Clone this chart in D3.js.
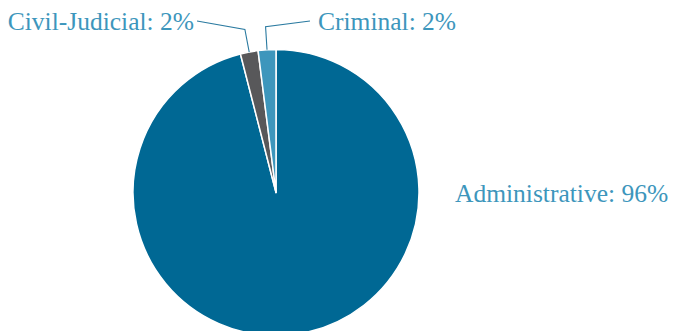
<!DOCTYPE html>
<html>
<head>
<meta charset="utf-8">
<script src="https://cdn.jsdelivr.net/npm/d3@7"></script>
<style>
  html, body { margin: 0; padding: 0; background: #ffffff; overflow: hidden; }
  svg { display: block; }
  text { font-family: "Liberation Serif", "DejaVu Serif", serif; }
</style>
</head>
<body>
<svg id="chart" width="673" height="331"></svg>
<script>
// Case types and their share of the total (percent)
const categories = ["Administrative", "Civil-Judicial", "Criminal"];
const shares = [96, 2, 2];
const sliceColors = ["#006894", "#58585a", "#3d96bc"];

const width = 673, height = 331;
const cx = 276, cy = 192.5, radius = 143;

const svg = d3.select("#chart");
const g = svg.append("g").attr("transform", `translate(${cx},${cy})`);

const data = categories.map((c, i) => ({ name: c, value: shares[i] }));

const pie = d3.pie().sort(null).value(d => d.value);
const arcs = pie(data);
const arc = d3.arc().innerRadius(0).outerRadius(radius);

const color = d3.scaleOrdinal().domain(categories).range(sliceColors);

g.selectAll("path.slice")
  .data(arcs)
  .join("path")
  .attr("class", "slice")
  .attr("d", arc)
  .attr("fill", d => color(d.data.name))
  .attr("stroke", "#ffffff")
  .attr("stroke-width", 1.5)
  .attr("stroke-linejoin", "round");

const labelColor = "#3d96bc";
const lineColor = "#2a7aa0";
const fontSize = 25.5;

// point on a ray from the center at the slice's mid angle
function polar(angle, r) {
  return [r * Math.sin(angle), -r * Math.cos(angle)];
}

// Small slices get leader lines up to labels above the pie
const small = {
  "Civil-Judicial": { tx: 194 - cx, ty: 30 - cy, anchor: "end", lx: 197 - cx, ly: 21 - cy },
  "Criminal": { tx: 318 - cx, ty: 30 - cy, anchor: "start", lx: 310 - cx, ly: 21 - cy }
};

arcs.forEach(d => {
  const mid = (d.startAngle + d.endAngle) / 2;
  const label = `${d.data.name}: ${d3.format(".0f")(d.data.value)}%`;
  const s = small[d.data.name];
  if (s) {
    const p0 = polar(mid, radius);
    const p1 = polar(mid, radius + 23);
    g.append("polyline")
      .attr("points", [p0, p1, [s.lx, s.ly]].map(p => p.join(",")).join(" "))
      .attr("fill", "none")
      .attr("stroke", lineColor)
      .attr("stroke-width", 1.1);
    g.append("text")
      .attr("x", s.tx).attr("y", s.ty)
      .attr("text-anchor", s.anchor)
      .attr("font-size", fontSize)
      .attr("fill", labelColor)
      .text(label);
  } else {
    g.append("text")
      .attr("x", 455 - cx).attr("y", 202 - cy)
      .attr("text-anchor", "start")
      .attr("font-size", fontSize)
      .attr("fill", labelColor)
      .text(label);
  }
});
</script>
</body>
</html>
